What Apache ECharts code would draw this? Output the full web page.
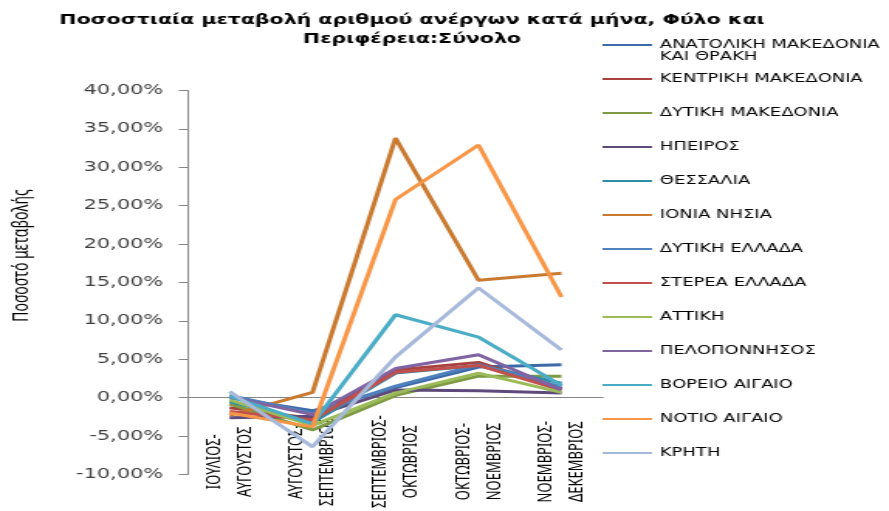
<!DOCTYPE html>
<html>
<head>
<meta charset="utf-8">
<script src="https://cdn.jsdelivr.net/npm/echarts@6/dist/echarts.min.js"></script>
<style>
  html, body { margin: 0; padding: 0; overflow: hidden; background: #fff; }
  /* the source picture is a stretched Excel chart: draw narrow, then widen */
  #main { width: 574px; height: 511px; transform: scaleX(1.5488); transform-origin: 0 0; }
</style>
</head>
<body>
<div id="main"></div>
<script>
const myChart = echarts.init(document.getElementById('main'));

// data
const months = ['ΙΟΥΛΙΟΣ-ΑΥΓΟΥΣΤΟΣ', 'ΑΥΓΟΥΣΤΟΣ-ΣΕΠΤΕΜΒΡΙΟΣ', 'ΣΕΠΤΕΜΒΡΙΟΣ-ΟΚΤΩΒΡΙΟΣ', 'ΟΚΤΩΒΡΙΟΣ-ΝΟΕΜΒΡΙΟΣ', 'ΝΟΕΜΒΡΙΟΣ-ΔΕΚΕΜΒΡΙΟΣ'];
const regions = ['ΑΝΑΤΟΛΙΚΗ ΜΑΚΕΔΟΝΙΑ ΚΑΙ ΘΡΑΚΗ', 'ΚΕΝΤΡΙΚΗ ΜΑΚΕΔΟΝΙΑ', 'ΔΥΤΙΚΗ ΜΑΚΕΔΟΝΙΑ', 'ΗΠΕΙΡΟΣ', 'ΘΕΣΣΑΛΙΑ',
  'ΙΟΝΙΑ ΝΗΣΙΑ', 'ΔΥΤΙΚΗ ΕΛΛΑΔΑ', 'ΣΤΕΡΕΑ ΕΛΛΑΔΑ', 'ΑΤΤΙΚΗ', 'ΠΕΛΟΠΟΝΝΗΣΟΣ', 'ΒΟΡΕΙΟ ΑΙΓΑΙΟ', 'ΝΟΤΙΟ ΑΙΓΑΙΟ', 'ΚΡΗΤΗ'];
const anMakThr = [0.0, -1.7, 1.3, 4.0, 4.3];
const kentMak = [-1.3, -2.7, 3.6, 4.6, 1.2];
const dytMak = [-0.8, -4.2, 0.3, 2.8, 2.8];
const ipeiros = [-2.6, -2.4, 1.0, 0.9, 0.6];
const thessalia = [-0.5, -3.2, 3.2, 4.2, 1.9];
const ionia = [-2.3, 0.7, 33.8, 15.3, 16.2];
const dytEll = [0.3, -2.0, 1.5, 4.3, 1.4];
const sterea = [-1.8, -2.9, 3.3, 4.2, 1.0];
const attiki = [-0.3, -3.6, 0.6, 3.2, 0.7];
const peloponnisos = [0.1, -2.2, 3.8, 5.6, 1.0];
const vorAig = [0.2, -3.4, 10.8, 7.9, 1.6];
const notAig = [-2.0, -3.8, 25.8, 32.9, 13.1];
const kriti = [0.8, -6.4, 5.3, 14.3, 6.2];
const yTicks = { min: -10, max: 40, step: 5 };

const values = [anMakThr, kentMak, dytMak, ipeiros, thessalia, ionia, dytEll, sterea, attiki, peloponnisos, vorAig, notAig, kriti];
const colors = ['#3c6aa8', '#a8423f', '#7e9a44', '#5f4a7c', '#2f8da5', '#c97a30',
  '#4f81bd', '#c0504d', '#9bbb59', '#8064a2', '#4bacc6', '#f79646', '#a7b9da'];

const gridTop = 90.5, gridBottom = 36.5, plotH = 511 - gridTop - gridBottom;
// x axis sits on the 0 line: shift it up from the grid bottom
const zeroShift = plotH * (0 - yTicks.min) / (yTicks.max - yTicks.min);

option = {
  animation: false,
  color: colors,
  title: {
    text: 'Ποσοστιαία μεταβολή αριθμού ανέργων κατά μήνα, Φύλο και\nΠεριφέρεια:Σύνολο',
    left: 261,
    top: 6,
    textAlign: 'center',
    textStyle: { fontFamily: 'DejaVu Sans', fontSize: 13.25, fontWeight: 'bold', color: '#000', lineHeight: 19 }
  },
  legend: {
    orient: 'vertical',
    left: 384,
    top: 33,
    icon: 'rect',
    itemWidth: 32,
    itemHeight: 2,
    itemGap: 20,
    textStyle: { fontFamily: 'DejaVu Sans', fontSize: 11.6, lineHeight: 14, color: '#000' },
    formatter: function (n) { return n === regions[0] ? 'ΑΝΑΤΟΛΙΚΗ ΜΑΚΕΔΟΝΙΑ' : n; },
    data: regions
  },
  graphic: [{
    type: 'text', x: 426, y: 57,
    style: { text: 'ΚΑΙ ΘΡΑΚΗ', font: '11.6px "DejaVu Sans"', fill: '#000', verticalAlign: 'middle' }
  }],
  grid: { left: 121.4, right: 184.7, top: gridTop, bottom: gridBottom, outerBoundsMode: 'none', containLabel: false },
  xAxis: {
    type: 'category',
    data: months,
    offset: -zeroShift,
    axisLine: { onZero: false, lineStyle: { color: '#868686', width: 1 } },
    axisTick: { length: 4, lineStyle: { color: '#868686' } },
    axisLabel: {
      rotate: 90,
      align: 'center',
      margin: 64,
      interval: 0,
      fontFamily: 'Noto Sans',
      fontSize: 13,
      lineHeight: 20,
      color: '#000',
      formatter: function (v) { return v.replace('-', '-\n'); }
    },
    splitLine: { show: false }
  },
  yAxis: {
    type: 'value',
    min: yTicks.min,
    max: yTicks.max,
    interval: yTicks.step,
    name: 'Ποσοστό μεταβολής',
    nameLocation: 'middle',
    nameGap: 100,
    nameTextStyle: { fontFamily: 'Noto Sans', fontSize: 14, color: '#000', padding: [0, 0, 0, 54] },
    axisLine: { show: true, lineStyle: { color: '#868686', width: 1 } },
    axisTick: { show: true, length: 6, lineStyle: { color: '#868686' } },
    axisLabel: {
      margin: 16,
      fontFamily: 'DejaVu Sans',
      fontSize: 13.5,
      color: '#404040',
      formatter: function (v) { return v.toFixed(2).replace('.', ',') + '%'; }
    },
    splitLine: { show: false }
  },
  series: regions.map(function (name, i) {
    return {
      name: name,
      type: 'line',
      symbol: 'none',
      lineStyle: { width: 3 },
      data: values[i]
    };
  })
};

myChart.setOption(option);
</script>
</body>
</html>
